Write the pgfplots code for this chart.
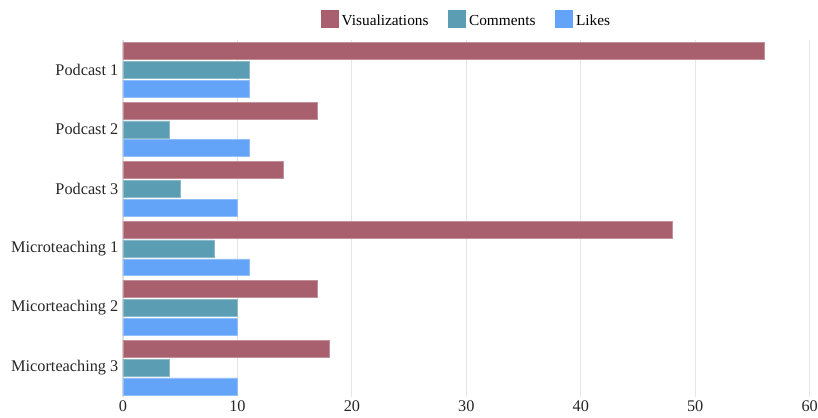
\documentclass[border=0pt]{standalone}
\usepackage{pgfplots}
\pgfplotsset{compat=1.18}
\usepackage{fontspec}
\setmainfont{Liberation Serif}
\definecolor{cvis}{HTML}{A8606F}
\definecolor{ccom}{HTML}{5B9DB3}
\definecolor{clik}{HTML}{64A4F8}
\begin{document}
\begin{tikzpicture}
\path[use as bounding box] (-92.25pt,-15pt) rectangle (521.25pt,298pt);
\begin{axis}[
  at={(0,0)}, anchor=south west,
  scale only axis, width=515pt, height=268pt,
  xmin=0, xmax=60, ymin=-0.5, ymax=5.5,
  y dir=reverse,
  xtick={0,10,...,60},
  ytick={0,1,2,3,4,5},
  yticklabels={Podcast 1,Podcast 2,Podcast 3,Microteaching 1,Micorteaching 2,Micorteaching 3},
  /pgf/number format/assume math mode=true,
  tick label style={font=\fontsize{12.2}{14}\selectfont, text=black!85},
  xticklabel style={yshift=1pt},
  xmajorgrids, grid style={draw=black!10, line width=0.6pt},
  axis line style={draw=none},
  separate axis lines,
  major tick length=0pt,
  xbar, bar width=12.7pt,
  legend style={at={(0.5,1.02)}, anchor=south, draw=none, legend columns=-1,
    font=\fontsize{11.5}{13}\selectfont, /tikz/every even column/.append style={column sep=12pt}},
  legend image code/.code={\draw[#1, draw=white] (0pt,-5.5pt) rectangle (14pt,8.5pt);},
  clip=false,
]
\draw[black!12, line width=0.8pt] (axis cs:0,-0.5) -- (axis cs:0,5.5);
\addplot[fill=cvis, draw=cvis!70!white, bar shift=14.1pt] coordinates {(56,0) (17,1) (14,2) (48,3) (17,4) (18,5)};
\addplot[fill=ccom, draw=ccom!70!white, bar shift=0pt] coordinates {(11,0) (4,1) (5,2) (8,3) (10,4) (4,5)};
\addplot[fill=clik, draw=clik!70!white, bar shift=-14.1pt] coordinates {(11,0) (11,1) (10,2) (11,3) (10,4) (10,5)};
\legend{Visualizations, Comments, Likes}
\end{axis}
\end{tikzpicture}
\end{document}
